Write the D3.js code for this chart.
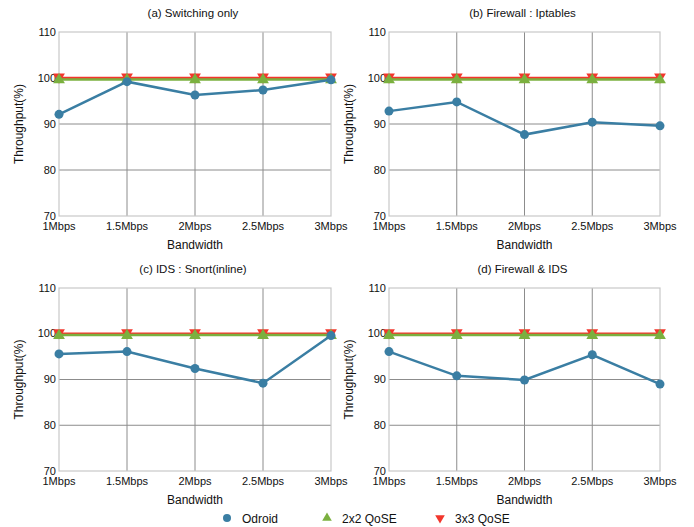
<!DOCTYPE html>
<html>
<head>
<meta charset="utf-8">
<script src="https://cdn.jsdelivr.net/npm/d3@7"></script>
<style>
  body { margin: 0; background: #fff; }
  svg { font-family: "Liberation Sans", Arial, sans-serif; }
</style>
</head>
<body>
<div id="root"></div>
<script>
const W = 694, H = 527

// data
const bandwidths = ["1Mbps", "1.5Mbps", "2Mbps", "2.5Mbps", "3Mbps"]
const yTicks = [70, 80, 90, 100, 110]
const titles = ["(a) Switching only", "(b) Firewall : Iptables", "(c) IDS : Snort(inline)", "(d) Firewall & IDS"]
const odroidA = [92.1, 99.2, 96.3, 97.4, 99.6]
const odroidB = [92.8, 94.8, 87.7, 90.4, 89.6]
const odroidC = [95.6, 96.1, 92.4, 89.2, 99.6]
const odroidD = [96.1, 90.8, 89.9, 95.4, 89.0]
const qose2 = [99.7, 99.7, 99.7, 99.7, 99.7]
const qose3 = [100, 100, 100, 100, 100]
const seriesNames = ["Odroid", "2x2 QoSE", "3x3 QoSE"]
const seriesColors = ["#3a7ea3", "#7bb03f", "#f2362c"]

const panels = [
    {title: titles[0], odroid: odroidA, x0: 59, x1: 331, y0: 32, y1: 216},
    {title: titles[1], odroid: odroidB, x0: 389, x1: 660, y0: 32, y1: 216},
    {title: titles[2], odroid: odroidC, x0: 59, x1: 331, y0: 288, y1: 471},
    {title: titles[3], odroid: odroidD, x0: 389, x1: 660, y0: 288, y1: 471}
]

const svg = d3.select("#root").append("svg")
    .attr("width", W)
    .attr("height", H)

const tri = d3.symbol().type(d3.symbolTriangle).size(60)

function drawPanel(p) {
    const x = d3.scalePoint().domain(bandwidths).range([p.x0, p.x1])
    const y = d3.scaleLinear().domain([70, 110]).range([p.y1, p.y0])
    const g = svg.append("g")

    // grid
    g.selectAll("line.vgrid").data(bandwidths.slice(1, -1)).enter().append("line")
        .attr("x1", d => x(d)).attr("x2", d => x(d))
        .attr("y1", p.y0).attr("y2", p.y1)
        .attr("stroke", "#8c8c8c").attr("stroke-width", 1)
    g.selectAll("line.hgrid").data(yTicks.slice(1, -1)).enter().append("line")
        .attr("x1", p.x0).attr("x2", p.x1)
        .attr("y1", d => y(d)).attr("y2", d => y(d))
        .attr("stroke", "#8c8c8c").attr("stroke-width", 1)
    g.append("rect")
        .attr("x", p.x0).attr("y", p.y0)
        .attr("width", p.x1 - p.x0).attr("height", p.y1 - p.y0)
        .attr("fill", "none").attr("stroke", "#c8c8c8").attr("stroke-width", 1.2)

    // ticks
    g.selectAll("text.ytick").data(yTicks).enter().append("text")
        .attr("x", p.x0 - 3).attr("y", d => y(d) + 3.5)
        .attr("text-anchor", "end").attr("font-size", 11).attr("fill", "#111")
        .text(d => d)
    g.selectAll("text.xtick").data(bandwidths).enter().append("text")
        .attr("x", d => x(d)).attr("y", p.y1 + 14)
        .attr("text-anchor", "middle").attr("font-size", 11).attr("fill", "#111")
        .text(d => d)

    // labels
    g.append("text")
        .attr("x", (p.x0 + p.x1) / 2).attr("y", p.y1 + 33)
        .attr("text-anchor", "middle").attr("font-size", 12).attr("fill", "#111")
        .text("Bandwidth")
    g.append("text")
        .attr("transform", `translate(${p.x0 - 36},${(p.y0 + p.y1) / 2}) rotate(-90)`)
        .attr("text-anchor", "middle").attr("font-size", 12).attr("fill", "#111")
        .text("Throughput(%)")
    g.append("text")
        .attr("x", (p.x0 + p.x1) / 2 - 2).attr("y", p.y0 - 15)
        .attr("text-anchor", "middle").attr("font-size", 11.5).attr("fill", "#111")
        .text(p.title)

    const line = d3.line().x((d, i) => x(bandwidths[i])).y(d => y(d))

    // 3x3 QoSE
    g.append("path").datum(qose3).attr("d", line)
        .attr("fill", "none").attr("stroke", seriesColors[2]).attr("stroke-width", 2.5)
    g.selectAll("path.m3").data(qose3).enter().append("path")
        .attr("d", tri)
        .attr("transform", (d, i) => `translate(${x(bandwidths[i])},${y(d) - 1}) rotate(180)`)
        .attr("fill", seriesColors[2])

    // 2x2 QoSE
    g.append("path").datum(qose2).attr("d", line)
        .attr("fill", "none").attr("stroke", seriesColors[1]).attr("stroke-width", 2.5)
    g.selectAll("path.m2").data(qose2).enter().append("path")
        .attr("d", tri)
        .attr("transform", (d, i) => `translate(${x(bandwidths[i])},${y(d) + 0.5})`)
        .attr("fill", seriesColors[1])

    // Odroid
    g.append("path").datum(p.odroid).attr("d", line)
        .attr("fill", "none").attr("stroke", seriesColors[0]).attr("stroke-width", 2.5)
    g.selectAll("circle.m1").data(p.odroid).enter().append("circle")
        .attr("cx", (d, i) => x(bandwidths[i])).attr("cy", d => y(d))
        .attr("r", 4.5).attr("fill", seriesColors[0])
}

panels.forEach(drawPanel)

// legend
const legendX = [227, 327, 440]
const legend = svg.append("g")
seriesNames.forEach((name, i) => {
    const cx = legendX[i], cy = 518
    if (i == 0) legend.append("circle").attr("cx", cx).attr("cy", cy).attr("r", 4).attr("fill", seriesColors[0])
    else if (i == 1) legend.append("path").attr("d", d3.symbol().type(d3.symbolTriangle).size(40))
        .attr("transform", `translate(${cx},${cy})`).attr("fill", seriesColors[1])
    else legend.append("path").attr("d", d3.symbol().type(d3.symbolTriangle).size(40))
        .attr("transform", `translate(${cx},${cy}) rotate(180)`).attr("fill", seriesColors[2])
    legend.append("text")
        .attr("x", cx + 15).attr("y", cy + 4.5)
        .attr("font-size", 12).attr("fill", "#111")
        .text(name)
})
</script>
</body>
</html>
